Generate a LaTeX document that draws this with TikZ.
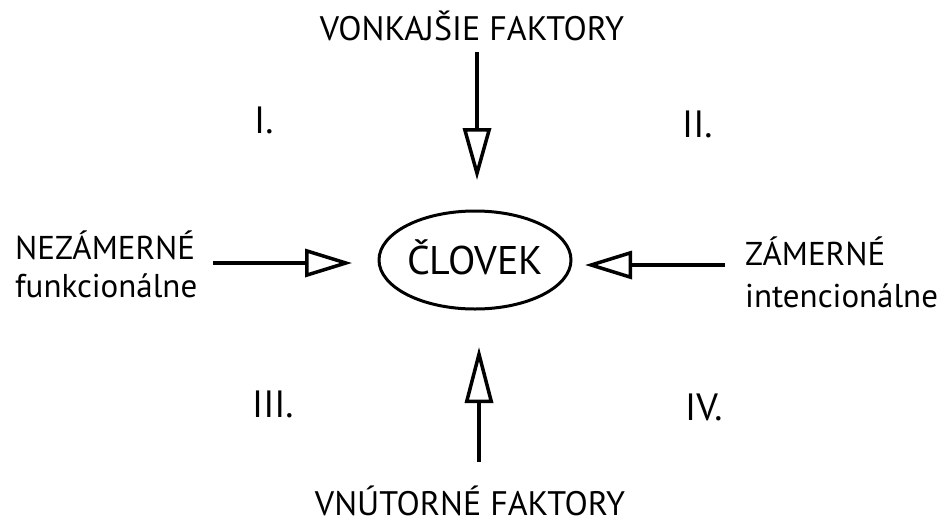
\documentclass[tikz,border=0pt]{standalone}
\usepackage{fontspec}
\setmainfont{PT Sans}
\usetikzlibrary{arrows.meta,shapes.geometric}
\tikzset{
  lbl/.style={inner sep=0pt, anchor=base, font=\fontsize{33}{33}\selectfont},
  big/.style={inner sep=0pt, anchor=base, font=\fontsize{34}{34}\selectfont},
  roman/.style={inner sep=0pt, anchor=base west, font=\fontsize{38}{38}\selectfont},
  flow/.style={line width=4.5pt, -{Triangle[open, line width=3.5pt, length=#1, width=28pt]}},
}
\begin{document}
\begin{tikzpicture}[x=1pt,y=-1pt]
\useasboundingbox (0,0) rectangle (947,523);
% texts
\node[big] (vonk) at (472,40) {VONKAJŠIE FAKTORY};
\node[big] (vnut) at (470,515) {VNÚTORNÉ FAKTORY};
\node[draw, ellipse, line width=3pt, minimum width=186pt, minimum height=98pt,
      inner sep=0pt, text height=28pt, text depth=0pt,
      font=\fontsize{40}{40}\selectfont] (clovek) at (475,260) {ČLOVEK};
\node[lbl, anchor=base west] (nez) at (15,259) {NEZÁMERNÉ};
\node[lbl, anchor=base west] (fun) at (15,297) {funkcionálne};
\node[lbl, anchor=base west] (zam) at (745,265) {ZÁMERNÉ};
\node[lbl, anchor=base west] (int) at (745,307) {intencionálne};
\node[roman] (r1) at (254,133) {I.};
\node[roman] (r2) at (682,137) {II.};
\node[roman] (r3) at (252,417) {III.};
\node[roman] (r4) at (685,420) {IV.};
% arrow ends
\coordinate (t0) at (477,52);
\coordinate (t1) at (477,180);
\coordinate (l0) at (213,263);
\coordinate (l1) at (352,263);
\coordinate (rr0) at (725,265);
\coordinate (rr1) at (585,265);
\coordinate (b0) at (479,462);
\coordinate (b1) at (479,347);
\draw[flow=52pt] (t0) -- (t1);
\draw[flow=47pt] (l0) -- (l1);
\draw[flow=47pt] (rr0) -- (rr1);
\draw[flow=56pt] (b0) -- (b1);
\end{tikzpicture}
\end{document}
